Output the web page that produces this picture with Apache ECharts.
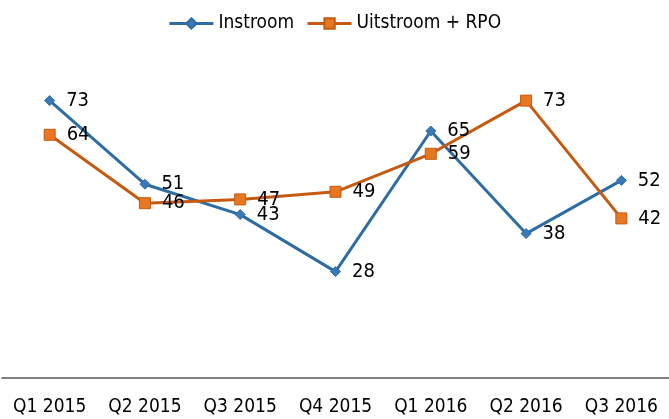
<!DOCTYPE html>
<html>
<head>
<meta charset="utf-8">
<script src="https://cdn.jsdelivr.net/npm/echarts@6/dist/echarts.min.js"></script>
<style>
  html, body { margin: 0; padding: 0; background: #fff; }
  #myChart { width: 669px; height: 419px; }
</style>
</head>
<body>
<div id="myChart"></div>
<script>
  // data
  let categories = ['Q1 2015', 'Q2 2015', 'Q3 2015', 'Q4 2015', 'Q1 2016', 'Q2 2016', 'Q3 2016'];
  let instroom = [73, 51, 43, 28, 65, 38, 52];
  let uitstroom = [64, 46, 47, 49, 59, 73, 42];

  let font = "'DejaVu Sans Condensed', 'Liberation Sans Narrow', sans-serif";

  let myChart = echarts.init(document.getElementById('myChart'));
  myChart.setOption({
    animation: false,
    color: ['#2E6DA4', '#E46C0A'],
    legend: {
      top: 9,
      left: 'center',
      itemWidth: 44,
      itemHeight: 13,
      itemGap: 12,
      lineStyle: { width: 3 },
      textStyle: { fontFamily: font, fontSize: 19, color: '#000' },
      data: ['Instroom', 'Uitstroom + RPO']
    },
    grid: { left: 2, right: -2, top: 74, bottom: 41, containLabel: false },
    xAxis: {
      type: 'category',
      data: categories,
      boundaryGap: true,
      axisLine: { lineStyle: { color: '#808080', width: 2 } },
      axisTick: { show: false },
      axisLabel: { interval: 0, fontFamily: font, fontSize: 19, color: '#000', margin: 20 }
    },
    yAxis: {
      type: 'value',
      min: 0,
      max: 80,
      show: false,
      splitLine: { show: false }
    },
    series: [
      {
        name: 'Instroom',
        type: 'line',
        data: instroom,
        symbol: 'diamond',
        symbolSize: 10,
        lineStyle: { color: '#2E6DA4', width: 3 },
        itemStyle: { color: '#3A78B8', borderColor: '#2E6DA4', borderWidth: 1 },
        label: { show: true, position: 'right', distance: 11, fontFamily: font, fontSize: 20, color: '#000' }
      },
      {
        name: 'Uitstroom + RPO',
        type: 'line',
        data: uitstroom,
        symbol: 'rect',
        symbolSize: 11,
        lineStyle: { color: '#C65A11', width: 3 },
        itemStyle: { color: '#E87722', borderColor: '#C65A11', borderWidth: 1 },
        label: { show: true, position: 'right', distance: 11, fontFamily: font, fontSize: 20, color: '#000' }
      }
    ]
  });
</script>
</body>
</html>
